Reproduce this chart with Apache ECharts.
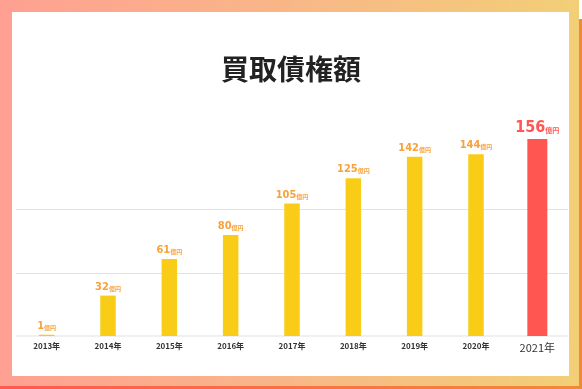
<!DOCTYPE html>
<html><head><meta charset="utf-8">
<script src="https://cdn.jsdelivr.net/npm/echarts@6/dist/echarts.min.js"></script>
<style>html,body{margin:0;padding:0;background:#fff}#c{width:582px;height:389px}</style>
</head><body><div id="c"></div>
<script>
const categories = ['2013年','2014年','2015年','2016年','2017年','2018年','2019年','2020年','2021年'];
const values = [1, 32, 61, 80, 105, 125, 142, 144, 156];
const titleText = '買取債権額';
const unitText = '億円';
const highlightIndex = 8;

const yellowData = values.map((v, i) => i === highlightIndex ? '-' : v);
const redData = values.map((v, i) => i === highlightIndex ? v : '-');

const chart = echarts.init(document.getElementById('c'), null, {renderer: 'canvas'});
const numFont = "'DejaVu Sans Condensed','Liberation Sans Narrow',sans-serif";
chart.setOption({
  animation: false,
  backgroundColor: '#fff',
  graphic: [
    {type: 'rect', z: -30, shape: {x: 3, y: 19, width: 579, height: 370},
     style: {fill: new echarts.graphic.LinearGradient(0, 0, 1, 0, [{offset: 0, color: '#ff5a4c'}, {offset: 1, color: '#f08a36'}])}},
    {type: 'rect', z: -30, shape: {x: 0, y: 95, width: 3, height: 294},
     style: {fill: '#ff5a4c'}},
    {type: 'rect', z: -20, shape: {x: 0, y: 0, width: 579, height: 386},
     style: {fill: new echarts.graphic.LinearGradient(0, 0, 1, 0, [{offset: 0, color: '#ffa092'}, {offset: 0.5, color: '#f8b787'}, {offset: 1, color: '#f2cf77'}])}},
    {type: 'rect', z: -10, shape: {x: 12, y: 12, width: 557, height: 364},
     style: {fill: '#ffffff'}}
  ],
  title: {
    text: titleText, left: 'center', top: 50,
    textStyle: {fontFamily: "'Noto Sans CJK JP',sans-serif", fontSize: 28, fontWeight: 'bold', color: '#222'}
  },
  grid: {left: 16, right: 14, top: 83.4, bottom: 53},
  xAxis: [
    {type: 'category', data: categories,
     axisLine: {lineStyle: {color: '#ebebeb', width: 1.5}},
     axisTick: {show: false},
     axisLabel: {
       interval: 0,
       margin: 6,
       formatter: (v, i) => i === highlightIndex ? '{b|' + v + '}' : '{a|' + v + '}',
       rich: {
         a: {fontSize: 8, fontWeight: 'bold', color: '#333', fontFamily: "'Noto Sans CJK JP',sans-serif"},
         b: {fontSize: 11, color: '#333', fontFamily: "'Noto Sans CJK JP',sans-serif", padding: [0, 0, 2, 0]}
       }
     }},
    {type: 'category', data: categories, show: false}
  ],
  yAxis: {
    type: 'value', min: 0, max: 200, interval: 50,
    axisLabel: {show: false}, axisLine: {show: false}, axisTick: {show: false},
    splitLine: {lineStyle: {color: ['rgba(0,0,0,0)', '#e2e2e2', '#e2e2e2', 'rgba(0,0,0,0)', 'rgba(0,0,0,0)'], width: 1}}
  },
  series: [
    {type: 'bar', xAxisIndex: 0, data: yellowData, barWidth: 15.5,
     itemStyle: {color: '#f9cd17'},
     label: {show: true, position: 'top', distance: 3,
       formatter: p => '{n|' + p.value + '}{u|' + unitText + '}',
       rich: {
         n: {fontFamily: numFont, fontWeight: 'bold', fontSize: 11, color: '#f7a23b'},
         u: {fontFamily: "'Noto Sans CJK JP',sans-serif", fontWeight: 'bold', fontSize: 6, color: '#f7a23b', padding: [3, 0, 0, 0]}
       }}},
    {type: 'bar', xAxisIndex: 1, data: redData, barWidth: 20,
     itemStyle: {color: '#ff5652'},
     label: {show: true, position: 'top', distance: 3,
       formatter: p => '{n|' + p.value + '}{u|' + unitText + '}',
       rich: {
         n: {fontFamily: numFont, fontWeight: 'bold', fontSize: 16, color: '#ff5652'},
         u: {fontFamily: "'Noto Sans CJK JP',sans-serif", fontWeight: 'bold', fontSize: 7, color: '#ff5652', padding: [5, 0, 0, 0]}
       }}}
  ]
});
</script></body></html>
